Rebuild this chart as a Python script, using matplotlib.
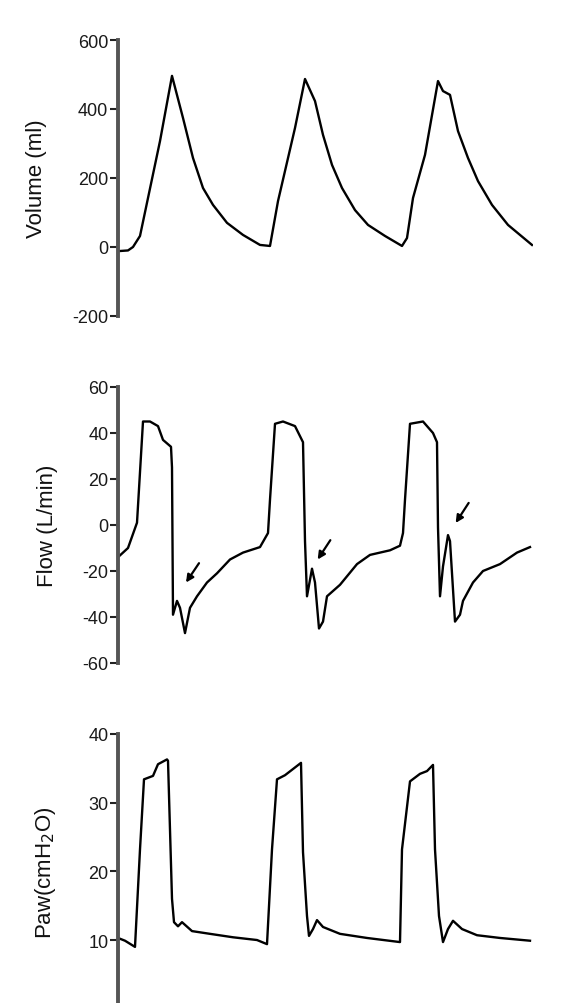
import matplotlib.pyplot as plt

plt.rcParams['font.family'] = ['Liberation Sans', 'DejaVu Sans']
plt.rcParams['axes.unicode_minus'] = False

# valores (tiempo en s)
t_vol = [0, 0.30, 0.45, 0.66, 1.26, 1.62, 1.95, 2.25, 2.55, 2.85, 3.27, 3.75, 4.26, 4.56,
         4.80, 5.31, 5.61, 5.91, 6.15, 6.42, 6.72, 7.11, 7.50, 8.01, 8.52,
         8.67, 8.85, 9.21, 9.60, 9.75, 9.96, 10.20, 10.50, 10.80, 11.22, 11.70, 12.42]
volumen = [-12, -10, 0, 32, 307, 496, 374, 258, 171, 122, 70, 35, 6, 3,
           133, 345, 487, 423, 325, 238, 171, 107, 64, 32, 3,
           26, 142, 267, 481, 452, 441, 336, 258, 191, 122, 64, 6]

t_flow = [0, 0.30, 0.57, 0.66, 0.75, 0.96, 1.20, 1.35, 1.59, 1.62, 1.65, 1.77, 1.86,
          2.01, 2.16, 2.37, 2.67, 2.97, 3.36, 3.75, 4.26, 4.50,
          4.56, 4.71, 4.95, 5.31, 5.55, 5.61, 5.67, 5.82, 5.91, 6.03, 6.15, 6.27,
          6.66, 7.17, 7.56, 8.16, 8.46, 8.55,
          8.61, 8.76, 9.15, 9.45, 9.57, 9.60, 9.66, 9.75, 9.90, 9.96, 10.11, 10.26,
          10.35, 10.65, 10.95, 11.46, 11.97, 12.36]
flujo = [-14, -10, 1, 23, 45, 45, 43, 37, 34, 25, -39, -33, -36,
         -47, -36, -31, -25, -21, -15, -12, -9.6, -3.5,
         11, 44, 45, 43, 36, -7, -31, -19, -25, -45, -42, -31,
         -26, -17, -13, -11, -9, -3.5,
         11, 44, 45, 40, 36, -1, -31, -18, -4.4, -7, -42, -39,
         -33, -25, -20, -17, -12, -9.6]

t_paw = [0, 0.21, 0.51, 0.66, 0.78, 1.05, 1.20, 1.47, 1.50, 1.62, 1.68, 1.80, 1.92,
         2.22, 2.76, 3.45, 4.17, 4.47,
         4.62, 4.77, 5.01, 5.25, 5.49, 5.55, 5.67, 5.73, 5.85, 5.97, 6.15,
         6.66, 7.47, 8.46,
         8.52, 8.76, 9.06, 9.27, 9.45, 9.51, 9.63, 9.75, 9.90, 10.05, 10.32,
         10.77, 11.46, 12.36]
paw = [10.3, 9.9, 9.0, 23.2, 33.4, 33.9, 35.6, 36.3, 36.1, 16, 12.6, 12.0, 12.6,
       11.3, 10.9, 10.4, 10, 9.4,
       23.2, 33.4, 34, 34.9, 35.8, 22.8, 13.5, 10.6, 11.6, 12.9, 11.9,
       10.9, 10.3, 9.7,
       23.2, 33.1, 34.2, 34.6, 35.5, 23.2, 13.5, 9.7, 11.6, 12.8, 11.6,
       10.7, 10.3, 9.9]

# flechas (cola, punta)
flechas = [((2.43, -16.6), (2.04, -25)),
           ((6.37, -6.6), (5.99, -15)),
           ((10.52, 9.6), (10.13, 0.9))]

fig = plt.figure(figsize=(5.65, 10.04), dpi=100)

izq = 118 / 565
ancho = 415 / 565


def estilo(ax, ticks, etiqueta, xlab):
    for lado in ['top', 'right', 'bottom']:
        ax.spines[lado].set_visible(False)
    ax.spines['left'].set_linewidth(2.8)
    ax.spines['left'].set_color('#555555')
    ax.set_xticks([])
    ax.set_yticks(ticks)
    ax.tick_params(axis='y', length=6, width=1.5, color='#222222', pad=1,
                   labelsize=13, labelcolor='#1a1a1a')
    ax.set_ylabel(etiqueta, fontsize=16, color='#111111')
    ax.yaxis.set_label_coords(xlab, 0.5)
    ax.set_xlim(0, 12.45)
    ax.patch.set_alpha(0)


#Volumen
ax1 = fig.add_axes([izq, 1 - 317 / 1004, ancho, 276 / 1004])
ax1.plot(t_vol, volumen, color='black', lw=1.7)
ax1.set_ylim(-200, 600)
estilo(ax1, [-200, 0, 200, 400, 600], 'Volume (ml)', -0.172)

#Flujo
ax2 = fig.add_axes([izq, 1 - 664 / 1004, ancho, 276 / 1004])
ax2.plot(t_flow, flujo, color='black', lw=1.7)
ax2.set_ylim(-60, 60)
estilo(ax2, [-60, -40, -20, 0, 20, 40, 60], 'Flow (L/min)', -0.145)
for cola, punta in flechas:
    ax2.annotate('', xy=punta, xytext=cola,
                 arrowprops=dict(arrowstyle='-|>', color='black', lw=1.6,
                                 mutation_scale=11, shrinkA=0, shrinkB=0))

#Presión
ax3 = fig.add_axes([izq, 1 - 1009.7 / 1004, ancho, 274.7 / 1004])
ax3.plot(t_paw, paw, color='black', lw=1.7)
ax3.set_ylim(0, 40)
estilo(ax3, [0, 10, 20, 30, 40], 'Paw(cmH$_2$O)', -0.145)

fig.savefig('out.png', dpi=100)
